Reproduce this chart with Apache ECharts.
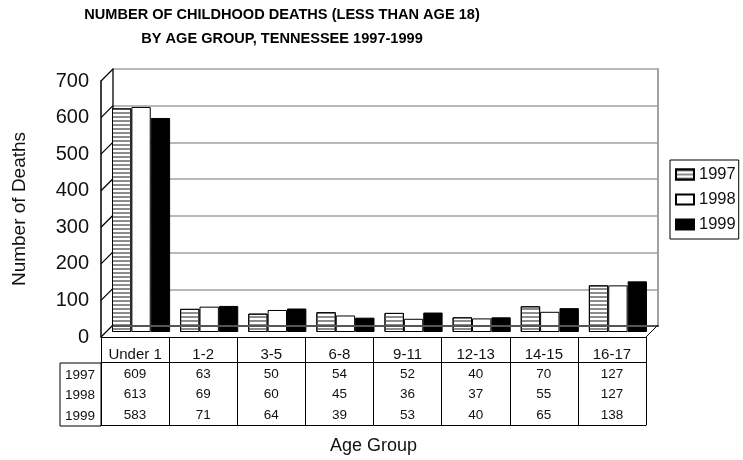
<!DOCTYPE html>
<html><head><meta charset="utf-8">
<script src="https://cdn.jsdelivr.net/npm/echarts@6/dist/echarts.min.js"></script>
<style>html,body{margin:0;padding:0;background:#fff}#c{width:743px;height:460px}</style>
</head><body><div id="c"></div>
<script>
const categories = ['Under 1','1-2','3-5','6-8','9-11','12-13','14-15','16-17'];
const years = ['1997','1998','1999'];
const deaths1997 = [609,63,50,54,52,40,70,127];
const deaths1998 = [613,69,60,45,36,37,55,127];
const deaths1999 = [583,71,64,39,53,40,65,138];
const yTicks = [0,100,200,300,400,500,600,700];
const titleLines = ['NUMBER OF CHILDHOOD DEATHS (LESS THAN AGE 18)', 'BY AGE GROUP, TENNESSEE 1997-1999'];
const yName = 'Number of Deaths';
const xName = 'Age Group';

const FONT = '"Liberation Sans", Arial, sans-serif';
const TXT = '#111';
const W = 545, H = 257, DX = 12, DY = 12;
const rows = [deaths1997, deaths1998, deaths1999];

const chart = echarts.init(document.getElementById('c'));
const noAxisParts = {axisTick:{show:false}, axisLabel:{show:false}, splitLine:{show:false}};

const option = {
  animation: false,
  backgroundColor: '#fff',
  textStyle: {fontFamily: FONT},
  grid: [
    {left: 101 + DX, top: 81 - DY, width: W, height: H},
    {left: 101 + DX/2, top: 81 - DY/2, width: W, height: H},
    {left: 101, top: 81, width: W, height: H}
  ],
  xAxis: [
    Object.assign({gridIndex:0, type:'category', data:categories, z:3,
      axisLine:{lineStyle:{color:'#000', width:1}}}, noAxisParts),
    Object.assign({gridIndex:0, type:'category', data:categories, position:'top', z:3,
      axisLine:{lineStyle:{color:'#555', width:2}}}, noAxisParts),
    {gridIndex:1, type:'category', data:categories, show:false},
    {gridIndex:2, type:'category', data:categories, position:'bottom', offset:0,
      axisLine:{lineStyle:{color:'#000', width:1}},
      axisTick:{show:true, interval:0, length:88, lineStyle:{color:'#000', width:1}},
      axisLabel:{interval:0, margin:10, fontSize:15, color:TXT, fontFamily:FONT},
      splitLine:{show:false}},
    {gridIndex:2, type:'category', data:categories, position:'bottom', offset:25,
      axisLine:{lineStyle:{color:'#000', width:1}}, axisTick:{show:false},
      axisLabel:{interval:0, margin:5, fontSize:13.5, color:TXT, fontFamily:FONT,
        formatter:(v,i)=>String(rows[0][i])}},
    {gridIndex:2, type:'category', data:categories, position:'bottom', offset:25,
      axisLine:{show:false}, axisTick:{show:false},
      axisLabel:{interval:0, margin:25.5, fontSize:13.5, color:TXT, fontFamily:FONT,
        formatter:(v,i)=>String(rows[1][i])}},
    {gridIndex:2, type:'category', data:categories, position:'bottom', offset:25,
      axisLine:{show:false}, axisTick:{show:false},
      axisLabel:{interval:0, margin:46, fontSize:13.5, color:TXT, fontFamily:FONT,
        formatter:(v,i)=>String(rows[2][i])}},
    {gridIndex:2, type:'category', data:categories, position:'bottom', offset:88,
      axisLine:{lineStyle:{color:'#000', width:1}}, axisTick:{show:false}, axisLabel:{show:false},
      name: xName, nameLocation:'middle', nameGap:12,
      nameTextStyle:{fontSize:18, color:TXT, fontFamily:FONT}}
  ],
  yAxis: [
    {gridIndex:0, type:'value', min:0, max:700, interval:100,
      axisLine:{show:true, lineStyle:{color:'#222', width:1.5}},
      axisTick:{show:false}, axisLabel:{show:false},
      splitLine:{show:true, lineStyle:{color:'#a0a0a0', width:1.5}}},
    Object.assign({gridIndex:0, type:'value', min:0, max:700, interval:100, position:'right',
      axisLine:{show:true, lineStyle:{color:'#a0a0a0', width:2}}}, noAxisParts),
    {gridIndex:1, type:'value', min:0, max:700, interval:100, show:false},
    {gridIndex:2, type:'value', min:0, max:700, interval:100,
      axisLine:{show:true, lineStyle:{color:'#000', width:1.5}},
      axisTick:{show:false}, splitLine:{show:false},
      axisLabel:{margin:12, fontSize:20, color:TXT, fontFamily:FONT},
      name: yName, nameLocation:'middle', nameGap:72,
      nameTextStyle:{fontSize:19, color:TXT, fontFamily:FONT}}
  ],
  legend: {
    data: years, orient:'vertical', left:670, top:160,
    itemWidth:18, itemHeight:10, itemGap:8, itemTextGap:3,
    padding:[6,3,6,5], borderColor:'#000', borderWidth:1, backgroundColor:'#fff',
    icon:'rect', textStyle:{fontSize:16.5, color:TXT, fontFamily:FONT}
  },
  series: [
    {name: years[0], type:'bar', xAxisIndex:2, yAxisIndex:2, data: deaths1997,
      barGap:'0%', barCategoryGap:'14.7%',
      itemStyle:{color:'#fff', borderColor:'#000', borderWidth:1,
        decal:{symbol:'rect', symbolSize:1, color:'#8c8c8c', dashArrayX:[1,0], dashArrayY:[2,2], rotation:0}}},
    {name: years[1], type:'bar', xAxisIndex:2, yAxisIndex:2, data: deaths1998,
      barGap:'0%', barCategoryGap:'14.7%',
      itemStyle:{color:'#fff', borderColor:'#000', borderWidth:1}},
    {name: years[2], type:'bar', xAxisIndex:2, yAxisIndex:2, data: deaths1999,
      barGap:'0%', barCategoryGap:'14.7%',
      itemStyle:{color:'#000', borderColor:'#000', borderWidth:1}},
    {type:'custom', xAxisIndex:3, yAxisIndex:3, z:4, silent:true,
      data: yTicks.map(v => [0, v]),
      renderItem: function (params, api) {
        const cs = params.coordSys;
        const y = api.coord([0, api.value(1)])[1];
        const x = cs.x;
        const children = [{type:'line', shape:{x1:x, y1:y, x2:x+DX, y2:y-DY},
          style:{stroke:'#000', lineWidth:1.2}}];
        if (api.value(1) === 0) {
          children.push({type:'line', shape:{x1:x+cs.width, y1:y, x2:x+cs.width+DX, y2:y-DY},
            style:{stroke:'#000', lineWidth:1}});
        }
        return {type:'group', children: children};
      }}
  ],
  graphic: [
    {type:'text', x:282, y:15, z:10, scaleX:0.94, style:{text:titleLines[0], align:'center', verticalAlign:'middle',
      font:'bold 15.5px ' + FONT, fill:'#000'}},
    {type:'text', x:282, y:39, z:10, scaleX:0.94, style:{text:titleLines[1], align:'center', verticalAlign:'middle',
      font:'bold 15.5px ' + FONT, fill:'#000'}},
    {type:'rect', shape:{x:60, y:363, width:41, height:63}, style:{fill:'none', stroke:'#000', lineWidth:1}},
    {type:'text', x:80, y:375, style:{text:years[0], align:'center', verticalAlign:'middle', font:'13.5px ' + FONT, fill:TXT}},
    {type:'text', x:80, y:395.5, style:{text:years[1], align:'center', verticalAlign:'middle', font:'13.5px ' + FONT, fill:TXT}},
    {type:'text', x:80, y:416, style:{text:years[2], align:'center', verticalAlign:'middle', font:'13.5px ' + FONT, fill:TXT}}
  ]
};
chart.setOption(option);
</script>
</body></html>
